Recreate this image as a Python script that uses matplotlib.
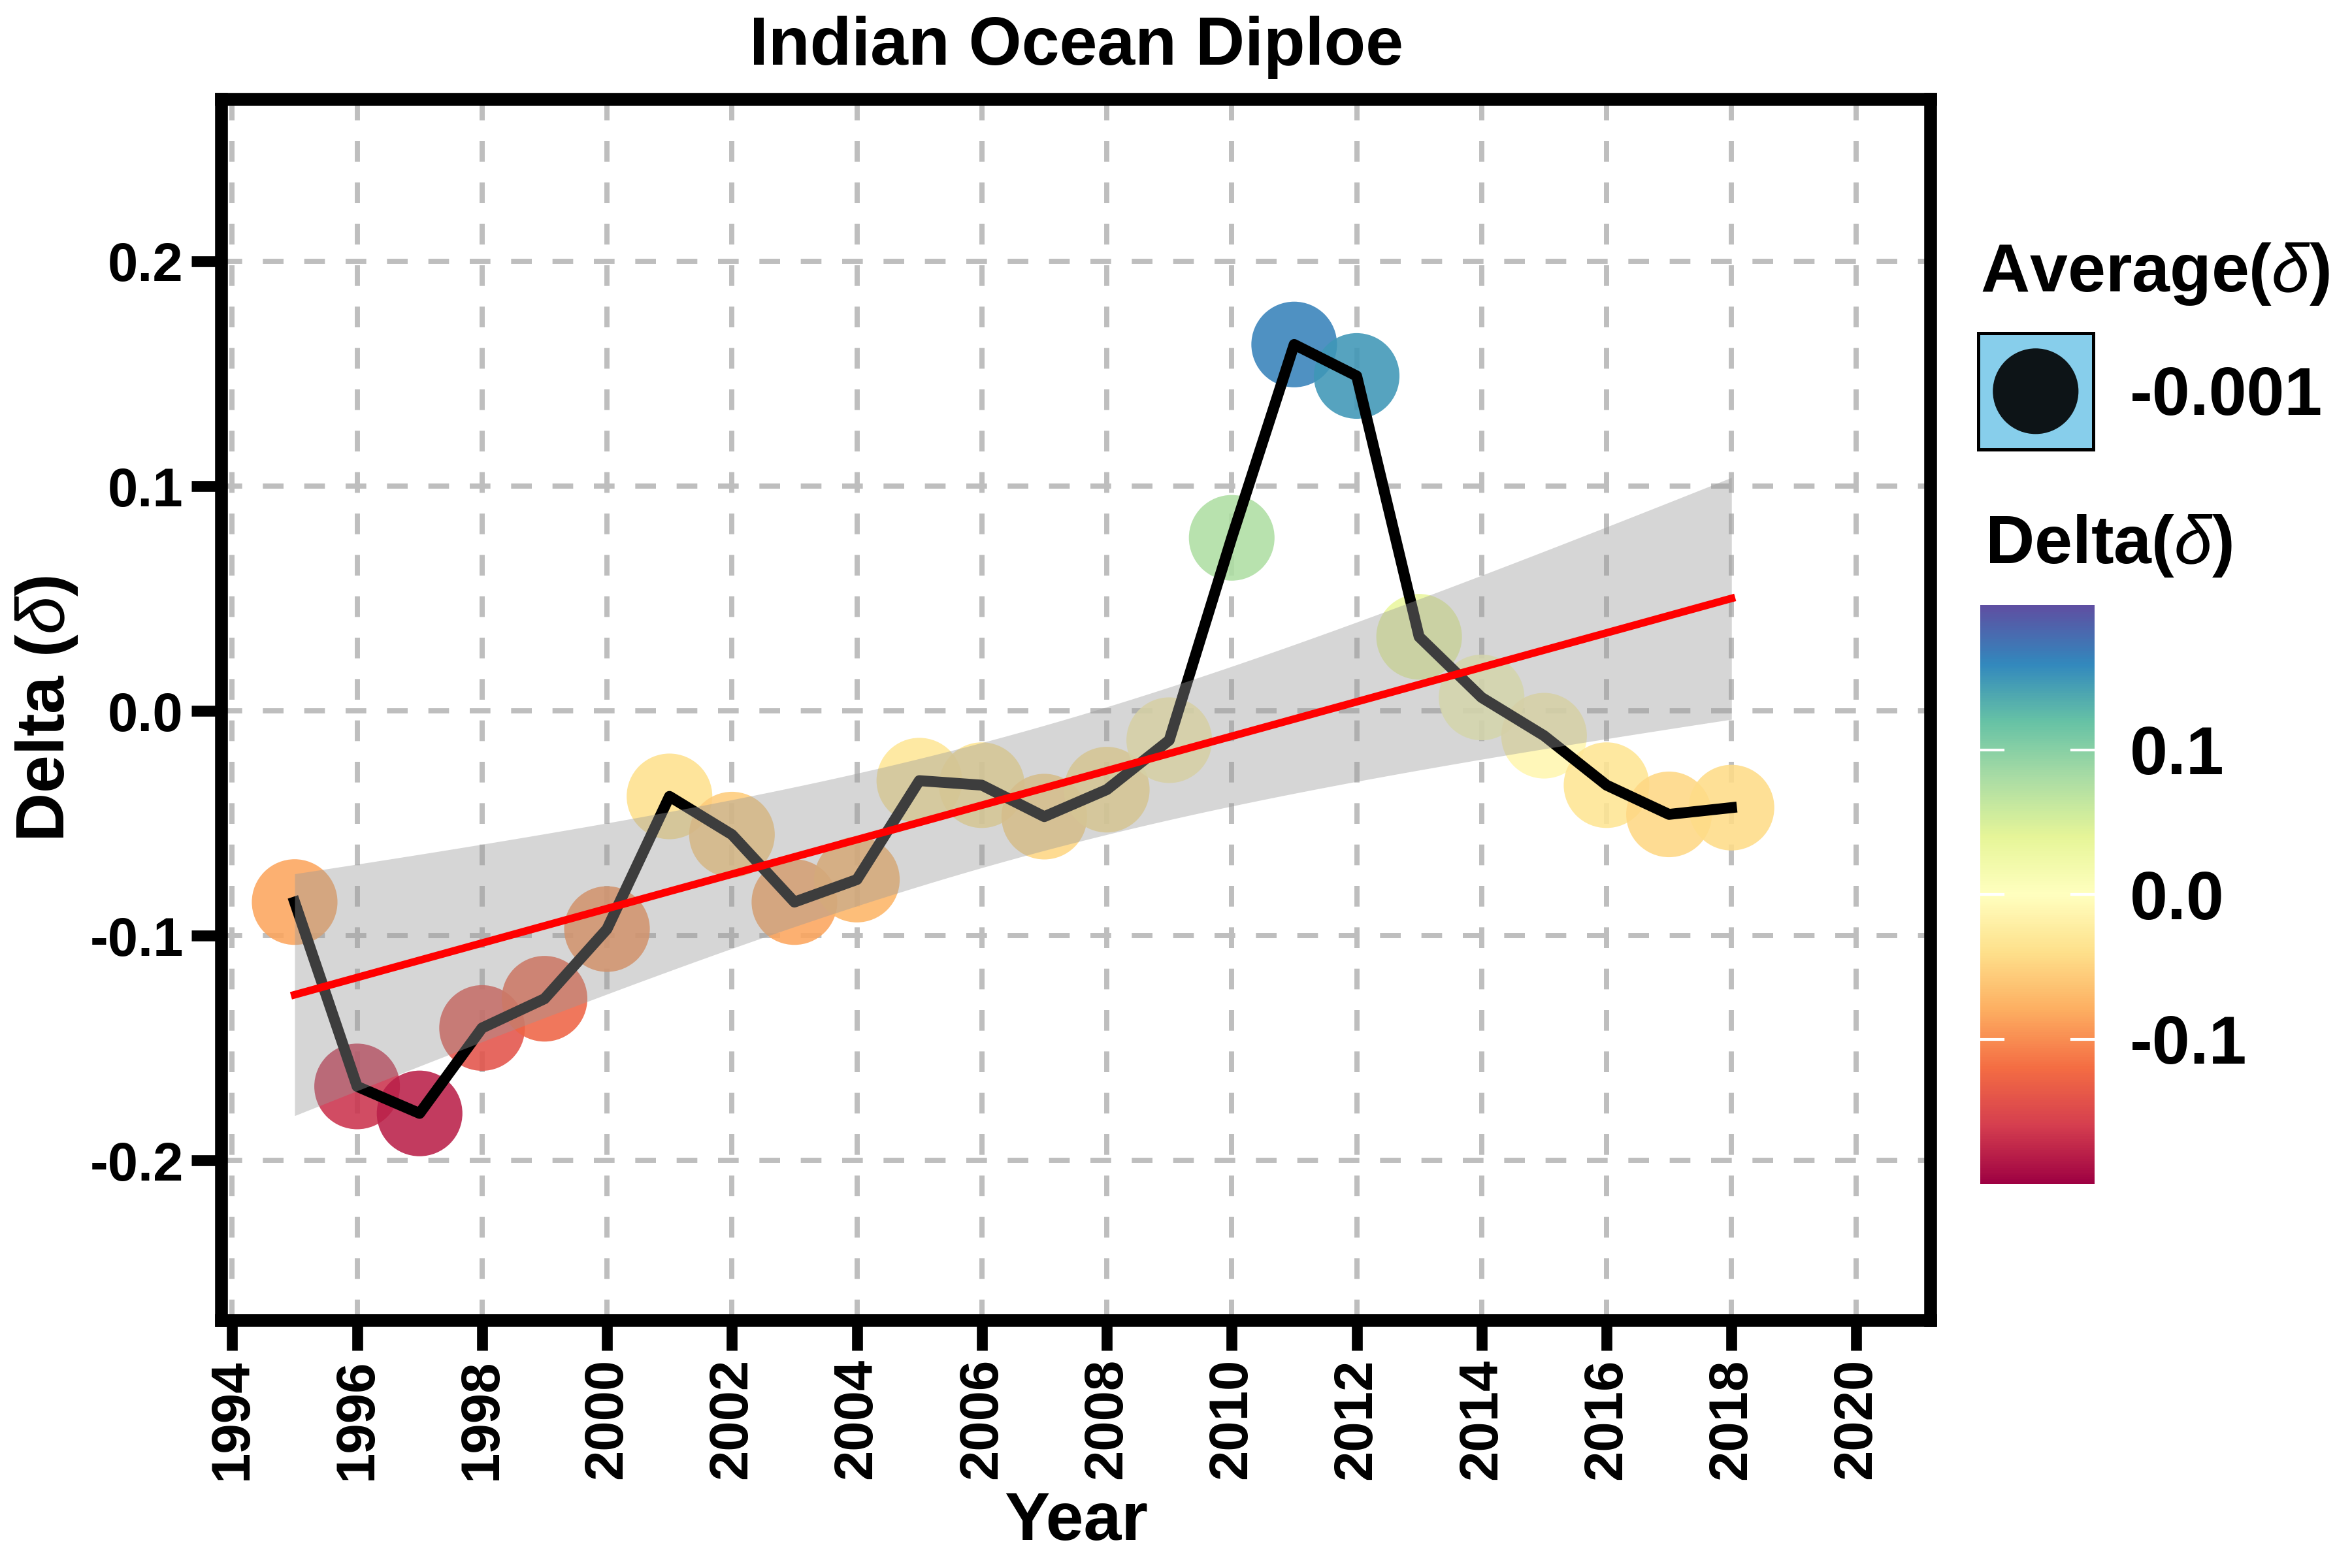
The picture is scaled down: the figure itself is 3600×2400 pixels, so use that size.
import numpy as np
import matplotlib
matplotlib.use("Agg")
import matplotlib.pyplot as plt
from matplotlib import cm
from matplotlib.colors import Normalize

plt.rcParams['font.family'] = ['Liberation Sans', 'DejaVu Sans']
plt.rcParams['font.weight'] = 'bold'
plt.rcParams['axes.unicode_minus'] = False
plt.rcParams['mathtext.fontset'] = 'custom'
plt.rcParams['mathtext.rm'] = 'Liberation Sans'
plt.rcParams['mathtext.it'] = 'Liberation Sans:italic:normal'
plt.rcParams['mathtext.bf'] = 'Liberation Sans:bold'

# data
years = np.arange(1995, 2019)
delta = np.array([-0.085, -0.167, -0.179, -0.141, -0.128, -0.097, -0.038, -0.055,
                  -0.085, -0.075, -0.031, -0.033, -0.047, -0.035, -0.013, 0.077,
                  0.163, 0.149, 0.033, 0.006, -0.011, -0.033, -0.046, -0.043])
avg_label = "-0.001"
x_ticks = np.arange(1994, 2021, 2)
y_ticks = [-0.2, -0.1, 0.0, 0.1, 0.2]
y_ticklabels = ["-0.2", "-0.1", "0.0", "0.1", "0.2"]
cb_ticks = [-0.1, 0.0, 0.1]
cb_ticklabels = ["-0.1", "0.0", "0.1"]

fig = plt.figure(figsize=(12, 8), dpi=300)
ax = fig.add_axes([0.0942, 0.158, 0.7267, 0.7786])

norm = Normalize(-0.2, 0.2)
cmap = plt.get_cmap('Spectral')

# points, line, then the lm band on top (like ggplot layer order)
ax.scatter(years, delta, s=990, c=delta, cmap=cmap, norm=norm, alpha=0.88,
           edgecolors='none', zorder=2)
ax.plot(years, delta, color='black', lw=4, zorder=3)

# linear fit + 95% confidence band
n = len(years)
b, a = np.polyfit(years, delta, 1)
resid = delta - (a + b * years)
s = np.sqrt(np.sum(resid ** 2) / (n - 2))
xm = years.mean()
sxx = np.sum((years - xm) ** 2)
xs = np.linspace(years.min(), years.max(), 80)
fit = a + b * xs
se = s * np.sqrt(1.0 / n + (xs - xm) ** 2 / sxx)
tval = 2.074
ax.fill_between(xs, fit - tval * se, fit + tval * se, color='#999999', alpha=0.4,
                lw=0, zorder=4)
ax.plot(xs, fit, color='red', lw=2.8, zorder=5)

ax.set_xlim(1993.83, 2021.19)
ax.set_ylim(-0.271, 0.272)
ax.set_xticks(x_ticks)
ax.set_xticklabels([str(v) for v in x_ticks], rotation=90)
ax.set_yticks(y_ticks)
ax.set_yticklabels(y_ticklabels)
ax.tick_params(direction='out', length=11, width=4, labelsize=20, pad=3, colors='black')
ax.grid(True, color='#bebebe', linestyle=(0, (4, 4)), linewidth=1.9)
ax.set_axisbelow(True)
for sp in ax.spines.values():
    sp.set_linewidth(4.7)
    sp.set_color('black')

fig.text(0.020, 0.548, r'Delta ($\delta$)', fontsize=25, fontweight='bold',
         rotation=90, ha='center', va='center')
fig.text(0.4576, 0.0179, 'Year', fontsize=25, fontweight='bold', ha='center', va='baseline')
fig.text(0.4576, 0.9588, 'Indian Ocean Diploe', fontsize=25, fontweight='bold',
         ha='center', va='baseline')

# legend for the average
fig.text(0.842, 0.814, r'Average($\delta$)', fontsize=25, fontweight='bold', va='baseline')
kax = fig.add_axes([0.841, 0.7135, 0.049, 0.0740])
kax.set_facecolor('#87ceeb')
kax.scatter([0], [0], s=990, color='#0d1417', edgecolors='none')
kax.set_xlim(-1, 1)
kax.set_ylim(-1, 1)
kax.set_xticks([])
kax.set_yticks([])
for sp in kax.spines.values():
    sp.set_linewidth(1.2)
fig.text(0.9056, 0.7354, avg_label, fontsize=25, fontweight='bold', va='baseline')

# colour bar
fig.text(0.844, 0.641, r'Delta($\delta$)', fontsize=25, fontweight='bold', va='baseline')
cax = fig.add_axes([0.842, 0.245, 0.0485, 0.369])
sm = cm.ScalarMappable(norm=norm, cmap=cmap)
cb = fig.colorbar(sm, cax=cax)
cb.outline.set_visible(False)
cb.set_ticks(cb_ticks)
cb.set_ticklabels(cb_ticklabels)
cax.tick_params(length=0, pad=13, labelsize=25)
for v in cb_ticks:
    cax.axhline(v, 0, 0.2, color='white', lw=1)
    cax.axhline(v, 0.8, 1, color='white', lw=1)

fig.savefig('out.png', dpi=300)
